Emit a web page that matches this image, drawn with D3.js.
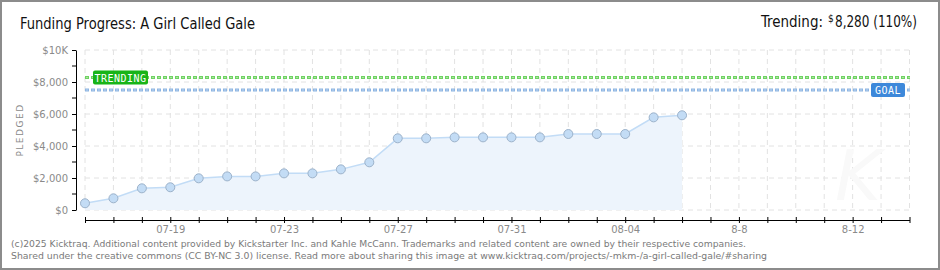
<!DOCTYPE html>
<html>
<head>
<meta charset="utf-8">
<script src="https://cdn.jsdelivr.net/npm/d3@7"></script>
<style>
  body { margin: 0; background: #fff; }
  svg { display: block; }
  .grid line { stroke: #e2e2e2; stroke-dasharray: 5,4; }
  .axis text { font-family: "DejaVu Sans", sans-serif; font-size: 10px; fill: #8a8a8a; }
  .axis path, .axis line { stroke: #000; }
</style>
</head>
<body>
<div id="chart"></div>
<script>
// Données
const dates = ["2025-07-16","2025-07-17","2025-07-18","2025-07-19","2025-07-20","2025-07-21",
  "2025-07-22","2025-07-23","2025-07-24","2025-07-25","2025-07-26","2025-07-27","2025-07-28",
  "2025-07-29","2025-07-30","2025-07-31","2025-08-01","2025-08-02","2025-08-03","2025-08-04",
  "2025-08-05","2025-08-06"];
const pledged = [420, 730, 1355, 1420, 1980, 2100, 2100, 2290, 2290, 2540, 2980, 4480, 4480,
  4540, 4540, 4540, 4540, 4750, 4750, 4750, 5790, 5920];
const tickLabelDates = ["2025-07-19","2025-07-23","2025-07-27","2025-07-31","2025-08-04","2025-08-08","2025-08-12"];
const tickLabels = ["07-19","07-23","07-27","07-31","08-04","8-8","8-12"];
const yTicks = [0, 2000, 4000, 6000, 8000, 10000];
const yTickLabels = ["$0","$2,000","$4,000","$6,000","$8,000","$10K"];
const yMinorTicks = [1000, 3000, 5000, 7000, 9000];
const trending = 8280;
const goal = 7500;

const width = 940, height = 270;
const parseTime = d3.timeParse("%Y-%m-%d");
const data = dates.map((d, i) => ({ date: parseTime(d), value: pledged[i] }));

const xScale = d3.scaleTime()
  .domain([parseTime("2025-07-16"), parseTime("2025-08-14")])
  .range([85, 909.5]);
const yScale = d3.scaleLinear().domain([0, 10000]).range([210, 50]);

const svg = d3.select("#chart").append("svg")
  .attr("width", width).attr("height", height);

// cadre
svg.append("rect")
  .attr("x", 1).attr("y", 1).attr("width", width - 2).attr("height", height - 2)
  .attr("fill", "#fff").attr("stroke", "#8c8c8c").attr("stroke-width", 2);

// titres
const headFont = "'DejaVu Sans Condensed', 'DejaVu Sans', sans-serif";
svg.append("text")
  .attr("x", 20).attr("y", 29)
  .attr("font-family", headFont)
  .attr("font-size", 16).attr("fill", "#111")
  .attr("textLength", 235).attr("lengthAdjust", "spacingAndGlyphs")
  .text("Funding Progress: A Girl Called Gale");

svg.append("text")
  .attr("x", 761).attr("y", 27)
  .attr("font-family", headFont).attr("font-size", 16).attr("fill", "#111")
  .attr("textLength", 62).attr("lengthAdjust", "spacingAndGlyphs")
  .text("Trending:");
svg.append("text")
  .attr("x", 828).attr("y", 22)
  .attr("font-family", headFont).attr("font-size", 10).attr("fill", "#111")
  .text("$");
svg.append("text")
  .attr("x", 835).attr("y", 27)
  .attr("font-family", headFont).attr("font-size", 16).attr("fill", "#111")
  .attr("textLength", 82).attr("lengthAdjust", "spacingAndGlyphs")
  .text(d3.format(",")(trending) + " (110%)");

// GRID
const allDays = d3.timeDay.range(xScale.domain()[0], d3.timeDay.offset(xScale.domain()[1], 1));
const grid = svg.append("g").attr("class", "grid");
grid.selectAll(".hgrid")
  .data(yTicks)
  .enter().append("line")
    .attr("x1", 85).attr("x2", 910)
    .attr("y1", d => yScale(d)).attr("y2", d => yScale(d));
grid.selectAll(".vgrid")
  .data(allDays)
  .enter().append("line")
    .attr("x1", d => xScale(d)).attr("x2", d => xScale(d))
    .attr("y1", 50).attr("y2", 210);

// watermark
svg.append("text")
  .attr("x", 858).attr("y", 200).attr("text-anchor", "middle")
  .attr("font-family", "'DejaVu Sans', sans-serif").attr("font-style", "italic")
  .attr("font-size", 70).attr("fill", "#f9f9f9")
  .text("K");

// AREA + LINE
svg.append("path")
  .datum(data)
  .attr("fill", "#edf4fc")
  .attr("d", d3.area().x(d => xScale(d.date)).y0(yScale(0)).y1(d => yScale(d.value)));
svg.append("path")
  .datum(data)
  .attr("fill", "none").attr("stroke", "#c2dcf6").attr("stroke-width", 1.5)
  .attr("d", d3.line().x(d => xScale(d.date)).y(d => yScale(d.value)));

// trending & goal lines
function dottedLine(v, outer, inner) {
  svg.append("line")
    .attr("x1", 85).attr("x2", 910).attr("y1", yScale(v)).attr("y2", yScale(v))
    .attr("stroke", outer).attr("stroke-width", 3).attr("stroke-dasharray", "4,2");
  svg.append("line")
    .attr("x1", 86).attr("x2", 910).attr("y1", yScale(v)).attr("y2", yScale(v))
    .attr("stroke", inner).attr("stroke-width", 1).attr("stroke-dasharray", "2,4");
}
dottedLine(trending, "#6fd262", "#a9e6a0");
dottedLine(goal, "#8db5e2", "#bcd4f0");

function badge(x, v, w, fill, label) {
  const y = yScale(v);
  svg.append("rect")
    .attr("x", x).attr("y", y - 7).attr("width", w).attr("height", 14)
    .attr("rx", 2).attr("fill", fill);
  svg.append("text")
    .attr("x", x + w / 2).attr("y", y + 4).attr("text-anchor", "middle")
    .attr("font-family", "'DejaVu Sans Mono', monospace").attr("font-size", 10)
    .attr("fill", "#fff").attr("letter-spacing", 0.5)
    .text(label);
}
badge(93, trending, 55, "#18b418", "TRENDING");
badge(871, goal, 34, "#3d88da", "GOAL");

// points
svg.selectAll(".pt")
  .data(data)
  .enter().append("circle")
    .attr("cx", d => xScale(d.date)).attr("cy", d => yScale(d.value))
    .attr("r", 4.5)
    .attr("fill", "#c3dcf5").attr("stroke", "#9cb2ca").attr("stroke-width", 1);

// Y-AXIS
const yAxis = svg.append("g")
  .attr("class", "axis")
  .attr("transform", "translate(76,0)")
  .call(d3.axisLeft(yScale)
    .tickValues(yTicks)
    .tickFormat((d, i) => yTickLabels[i])
    .tickSize(4).tickSizeOuter(0).tickPadding(4));
yAxis.selectAll(".minor")
  .data(yMinorTicks)
  .enter().append("line")
    .attr("x1", -4).attr("x2", 0)
    .attr("y1", d => yScale(d)).attr("y2", d => yScale(d))
    .attr("stroke", "#e00000");

svg.append("text")
  .attr("transform", "translate(23,130) rotate(-90)")
  .attr("text-anchor", "middle")
  .attr("font-family", "'DejaVu Sans', sans-serif").attr("font-size", 9)
  .attr("letter-spacing", 1.5).attr("fill", "#8a8a8a")
  .text("PLEDGED");

// X-AXIS
const xAxis = svg.append("g")
  .attr("class", "axis")
  .attr("transform", "translate(0,220)")
  .call(d3.axisBottom(xScale)
    .tickValues(allDays)
    .tickFormat(d => {
      const i = tickLabelDates.indexOf(d3.timeFormat("%Y-%m-%d")(d));
      return i >= 0 ? tickLabels[i] : "";
    })
    .tickSize(3).tickSizeOuter(0).tickPadding(3));
xAxis.selectAll(".tick line").attr("y1", -3).attr("y2", 3);

// footer
const footer = [
  ["(c)2025 Kicktraq. Additional content provided by Kickstarter Inc. and Kahle McCann. Trademarks and related content are owned by their respective companies.", 735],
  ["Shared under the creative commons (CC BY-NC 3.0) license. Read more about sharing this image at www.kicktraq.com/projects/-mkm-/a-girl-called-gale/#sharing", 756]
];
svg.selectAll(".foot")
  .data(footer)
  .enter().append("text")
    .attr("x", 11).attr("y", (d, i) => 247 + i * 11.5)
    .attr("font-family", "'DejaVu Sans', sans-serif").attr("font-size", 9.5)
    .attr("fill", "#7a7a7a")
    .attr("textLength", d => d[1]).attr("lengthAdjust", "spacingAndGlyphs")
    .text(d => d[0]);
</script>
</body>
</html>
